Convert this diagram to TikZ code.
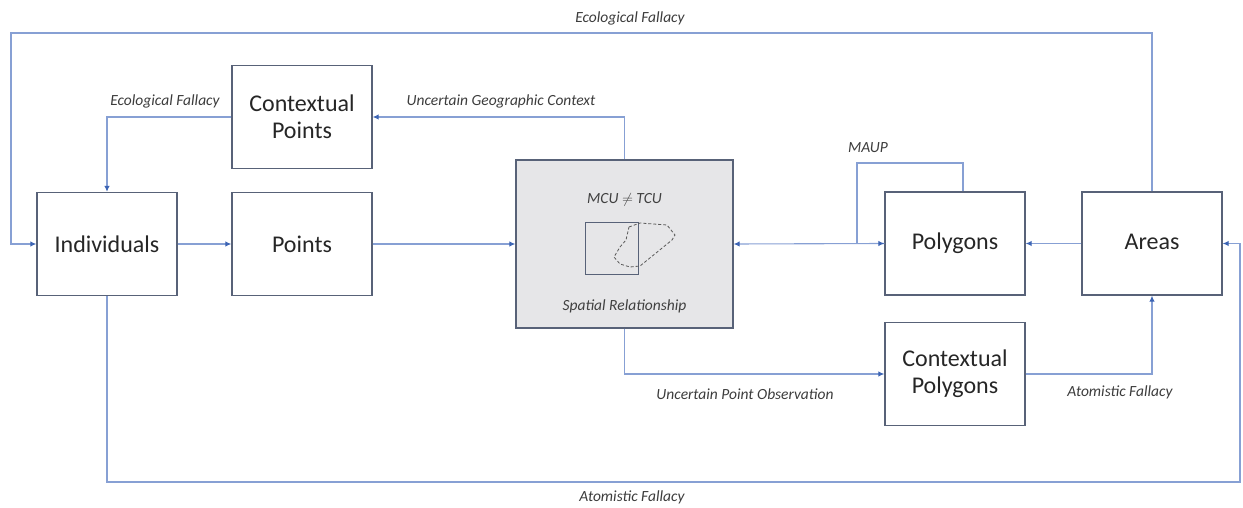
\documentclass[tikz,border=0pt]{standalone}
\usepackage{fontspec}
\setmainfont{Carlito}
\usetikzlibrary{arrows.meta}
\definecolor{boxline}{RGB}{88,98,120}
\definecolor{conline}{RGB}{135,160,212}
\definecolor{tipblue}{RGB}{60,100,180}
\definecolor{labgray}{RGB}{60,60,60}
\definecolor{boxgray}{RGB}{230,230,232}
\begin{document}
\begin{tikzpicture}[x=1pt, y=-1pt,
		box/.style={draw=boxline, line width=1.3pt, minimum width=140pt, minimum height=103pt, align=center, inner sep=2pt, text=black!85, font=\fontsize{24}{27}\selectfont},
		conn/.style={draw=conline, line width=1.1pt, -{Latex[length=6pt, width=5.5pt, color=tipblue]}},
		lab/.style={text=labgray, font=\fontsize{15.5}{18}\selectfont\itshape}]
			\useasboundingbox (0,0) rectangle (1243,508);
			% boxes
			\node[box] (ctxpts) at (302,117) {Contextual\\Points};
			\node[box] (indiv) at (107,244) {Individuals};
			\node[box] (points) at (302,244) {Points};
			\node[box, fill=boxgray, minimum width=217pt, minimum height=168pt] (spatial) at (624.5,244) {};
			\node[box] (polygons) at (955,243.5) {Polygons\vphantom{A}};
			\node[box] (areas) at (1152,243.5) {Areas\vphantom{y}};
			\node[box] (ctxpoly) at (955,374) {Contextual\\Polygons};
			% inside the spatial relationship box
			\node[lab, text=black!75] (mcu) at (624.5,200) {MCU \ensuremath{\neq} TCU};
			\node[lab, text=black!75] (sprel) at (624.5,306) {Spatial Relationship};
			\draw[boxline, line width=1pt] (585,222) rectangle (638,274);
			\draw[black!65, line width=0.8pt, densely dashed] (629,227) -- (640,223) -- (667,225) -- (675,235) -- (672,240) -- (640,266) -- (630,267) -- (620,264) -- (614,257) -- (620,247) -- (626,240) -- cycle;
			% corner points of the long connectors
			\coordinate (tl) at (11,33);
			\coordinate (br) at (1240,482);
			\coordinate (maup) at (857,163);
			% connectors
			\draw[conn] (areas.north) |- (tl) |- (indiv.west);
			\draw[conn] (ctxpts.west) -| (indiv.north);
			\draw[conn] (spatial.north) |- (ctxpts.east);
			\draw[conn] (indiv.east) -- (points.west);
			\draw[conn] (points.east) -- (spatial.west);
			\draw[conn] (polygons.west) -- (spatial.east);
			\draw[conn] ([xshift=8pt]polygons.north) |- (maup) |- (polygons.west);
			\draw[conn] (areas.west) -- (polygons.east);
			\draw[conn] (indiv.south) |- (br) |- (areas.east);
			\draw[conn] (spatial.south) |- (ctxpoly.west);
			\draw[conn] (ctxpoly.east) -| (areas.south);
			% labels
			\node[lab] (ecotop) at (630,18) {Ecological Fallacy};
			\node[lab] (ecoleft) at (165,101) {Ecological Fallacy};
			\node[lab] (ugc) at (501,101) {Uncertain Geographic Context};
			\node[lab] (maupl) at (868,148) {MAUP};
			\node[lab] (upo) at (745,394) {Uncertain Point Observation};
			\node[lab] (atright) at (1120,392) {Atomistic Fallacy};
			\node[lab] (atbottom) at (632,497) {Atomistic Fallacy};
		\end{tikzpicture}
\end{document}
